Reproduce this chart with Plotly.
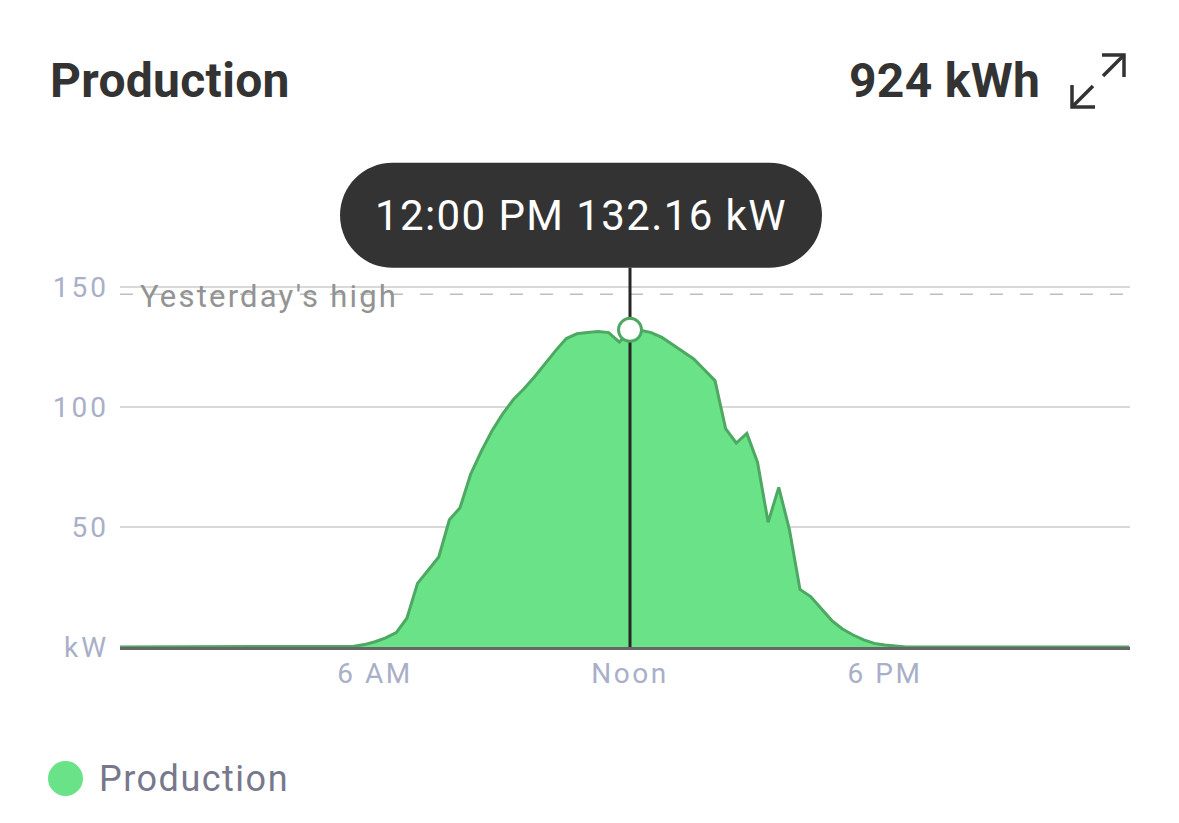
import plotly.graph_objects as go

# ---- data ----
hours = [0.0, 5.0, 5.25, 5.5, 5.75, 6.0, 6.25, 6.5, 6.75, 7.0, 7.25, 7.5, 7.75,
         8.0, 8.25, 8.5, 8.75, 9.0, 9.25, 9.5, 9.75, 10.0, 10.25, 10.5, 10.75,
         11.0, 11.25, 11.5, 11.75, 12.0, 12.25, 12.5, 12.75, 13.0, 13.25, 13.5,
         13.75, 14.0, 14.25, 14.5, 14.75, 15.0, 15.25, 15.5, 15.75, 16.0, 16.25,
         16.5, 16.75, 17.0, 17.25, 17.5, 17.75, 18.0, 18.25, 18.5, 23.75]
kw = [0, 0, 0, 0.3, 1.0, 2.2, 3.8, 6.0, 12, 26.5, 32, 37.5, 53,
      58, 72, 81.5, 90, 97, 103, 107.5, 112.5, 118, 123.5, 128.5, 130.5,
      131, 131.5, 131, 127, 132.16, 132, 131, 129, 126, 123, 120,
      115.5, 111, 91, 85, 89, 77, 52, 66.5, 49, 24, 21,
      16, 11, 7.5, 5, 3, 1.5, 0.8, 0.3, 0, 0]

highlight_hour = 12.0
highlight_label = "12:00 PM"
highlight_kw = 132.16
yesterday_high = 147
total_kwh = "924 kWh"

x_tickvals = [6, 12, 18]
x_ticktext = ["6 AM", "Noon", "6 PM"]
y_tickvals = [0, 50, 100, 150]
y_ticktext = ["kW", "50", "100", "150"]

# ---- layout geometry (pixels, page coordinates; body has an 8px margin) ----
OFF = 8
W, H = 1179, 823
ML = 120 - OFF
MT = 143 - OFF
MR = W + OFF - 1130
MB = H + OFF - 647
plot_w = W - ML - MR
plot_h = H - MT - MB
x_max = 23.7647
y_max = 210
px_per_h = plot_w / x_max
px_per_kw = plot_h / y_max

FILL = "#6AE288"
LINE = "#4DA862"
DARK = "#333333"
AXIS_TXT = "#A9AFC8"


def px_x(px):
    return (px - 120) / plot_w


def px_y(py):
    return (647 - py) / plot_h


def spaced(text, sp):
    return f'<span style="letter-spacing:{sp}px">{text}</span>'


fig = go.Figure()

fig.add_trace(go.Scatter(
    x=hours, y=kw, mode="lines", fill="tozeroy",
    fillcolor=FILL, line=dict(color=LINE, width=3),
    hoverinfo="skip", showlegend=False,
))

# tooltip pill geometry relative to highlighted point
pill_cx = highlight_hour - 49 / px_per_h
pill_half_w = 241 / px_per_h
pill_r_px = 52.5
pill_bottom = highlight_kw + 62 / px_per_kw
pill_top = pill_bottom + 2 * pill_r_px / px_per_kw
rx = pill_r_px / px_per_h
ry = pill_r_px / px_per_kw
k = 0.5523
x0 = pill_cx - pill_half_w
x1 = pill_cx + pill_half_w
ym = (pill_top + pill_bottom) / 2
pill_path = (
    f"M {x0 + rx},{pill_bottom} L {x1 - rx},{pill_bottom} "
    f"C {x1 - rx + k * rx},{pill_bottom} {x1},{ym - k * ry} {x1},{ym} "
    f"C {x1},{ym + k * ry} {x1 - rx + k * rx},{pill_top} {x1 - rx},{pill_top} "
    f"L {x0 + rx},{pill_top} "
    f"C {x0 + rx - k * rx},{pill_top} {x0},{ym + k * ry} {x0},{ym} "
    f"C {x0},{ym - k * ry} {x0 + rx - k * rx},{pill_bottom} {x0 + rx},{pill_bottom} Z"
)

# crosshair
fig.add_trace(go.Scatter(
    x=[highlight_hour, highlight_hour], y=[0, pill_bottom], mode="lines",
    line=dict(color="#262626", width=3), hoverinfo="skip", showlegend=False,
))
fig.add_trace(go.Scatter(
    x=[highlight_hour], y=[highlight_kw], mode="markers",
    marker=dict(size=23, color="white", line=dict(color=LINE, width=3)),
    hoverinfo="skip", showlegend=False,
))

shapes = [
    dict(type="line", xref="x", yref="y", x0=0, x1=x_max,
         y0=yesterday_high, y1=yesterday_high,
         line=dict(color="#BDBDBD", width=1.5, dash="13px,17px"), layer="below"),
    dict(type="path", xref="x", yref="y", path=pill_path,
         fillcolor=DARK, line=dict(width=0)),
    # legend dot
    dict(type="circle", xref="paper", yref="paper",
         x0=px_x(48), x1=px_x(83), y0=px_y(796), y1=px_y(761),
         fillcolor=FILL, line=dict(width=0)),
]

# expand icon
icon = [
    [(1072, 85), (1072, 107), (1095, 107)],
    [(1072, 107), (1093, 86)],
    [(1102, 55), (1124, 55), (1124, 77)],
    [(1124, 55), (1103, 76)],
]
for seg in icon:
    p = "M " + " L ".join(f"{px_x(a)},{px_y(b)}" for a, b in seg)
    shapes.append(dict(type="path", xref="paper", yref="paper", path=p,
                       line=dict(color=DARK, width=3.5)))

annotations = [
    dict(text=spaced("<b>Production</b>", 0.3), xref="paper", yref="paper",
         x=px_x(48), y=px_y(80), xanchor="left", yanchor="middle",
         showarrow=False, font=dict(size=48, color=DARK)),
    dict(text=spaced(f"<b>{total_kwh}</b>", 0.3), xref="paper", yref="paper",
         x=px_x(1042), y=px_y(80), xanchor="right", yanchor="middle",
         showarrow=False, font=dict(size=48, color=DARK)),
    dict(text=spaced(f"{highlight_label} {highlight_kw:.2f} kW", 1.4),
         xref="x", yref="y",
         x=pill_cx, y=ym, xanchor="center", yanchor="middle",
         showarrow=False, font=dict(size=42, color="white")),
    dict(text=spaced("Yesterday's high", 2.2), xref="paper", yref="y",
         x=px_x(138), y=yesterday_high - 0.8, xanchor="left", yanchor="middle",
         showarrow=False, font=dict(size=31, color="#939393")),
    dict(text=spaced("Production", 1.5), xref="paper", yref="paper",
         x=px_x(97), y=px_y(779), xanchor="left", yanchor="middle",
         showarrow=False, font=dict(size=36, color="#77788C")),
]

fig.update_layout(
    width=W, height=H,
    margin=dict(l=ML, r=MR, t=MT, b=MB),
    paper_bgcolor="white", plot_bgcolor="white",
    font=dict(family="Roboto", color=AXIS_TXT),
    showlegend=False,
    shapes=shapes,
    annotations=annotations,
    xaxis=dict(
        range=[0, x_max], tickvals=x_tickvals,
        ticktext=[spaced(t, 2.5) for t in x_ticktext],
        showgrid=False, zeroline=False, showline=True,
        linecolor="#666666", linewidth=3, layer="above traces",
        tickfont=dict(size=28, color=AXIS_TXT), ticks="", ticklabelstandoff=-1,
        fixedrange=True,
    ),
    yaxis=dict(
        range=[0, y_max], tickvals=y_tickvals,
        ticktext=[spaced(t, 3) for t in y_ticktext],
        showgrid=True, gridcolor="#D9D9D9", gridwidth=1.5, zeroline=False,
        tickfont=dict(size=28, color=AXIS_TXT), ticks="", ticklabelstandoff=10,
        fixedrange=True,
    ),
)

fig.write_html("out.html")
